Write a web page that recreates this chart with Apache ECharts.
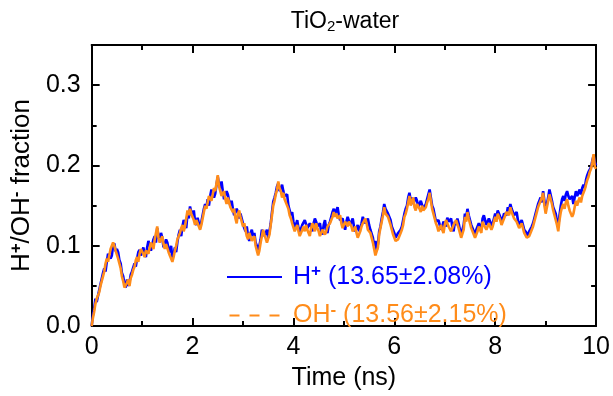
<!DOCTYPE html>
<html>
<head>
<meta charset="utf-8">
<script src="https://cdn.jsdelivr.net/npm/echarts@6/dist/echarts.min.js"></script>
<style>html,body{margin:0;padding:0;background:#fff}#c{width:613px;height:396px}</style>
</head>
<body>
<div id="c"></div>
<script>
// sampling step of the time series (ns)
const T_STEP = 0.025;

// H+ fraction, t = 0 .. 10 ns
const hPlus = [
  0.000,0.014,0.022,0.034,0.030,0.028,0.045,0.052,0.052,0.066,0.072,0.068,0.080,0.090,0.092,0.084,0.088,0.100,0.103,0.093,
  0.096,0.092,0.082,0.078,0.066,0.062,0.052,0.048,0.058,0.050,0.055,0.064,0.068,0.066,0.078,0.074,0.084,0.092,0.095,0.088,
  0.092,0.098,0.090,0.086,0.098,0.106,0.101,0.094,0.095,0.108,0.112,0.104,0.122,0.112,0.106,0.116,0.110,0.098,0.100,0.108,
  0.104,0.096,0.092,0.100,0.084,0.090,0.098,0.092,0.105,0.114,0.120,0.112,0.124,0.132,0.128,0.122,0.140,0.134,0.149,0.142,
  0.136,0.144,0.130,0.126,0.135,0.128,0.122,0.130,0.138,0.146,0.152,0.148,0.158,0.150,0.162,0.170,0.168,0.160,0.165,0.176,
  0.186,0.176,0.172,0.180,0.168,0.158,0.160,0.168,0.164,0.156,0.150,0.156,0.146,0.138,0.136,0.146,0.142,0.134,0.140,0.134,
  0.128,0.122,0.118,0.124,0.112,0.106,0.116,0.120,0.112,0.116,0.104,0.100,0.092,0.100,0.108,0.120,0.122,0.112,0.116,0.120,
  0.110,0.118,0.128,0.142,0.155,0.160,0.166,0.174,0.178,0.168,0.172,0.176,0.168,0.162,0.160,0.164,0.150,0.144,0.138,0.142,
  0.130,0.122,0.126,0.132,0.122,0.116,0.118,0.126,0.126,0.132,0.130,0.122,0.120,0.128,0.124,0.118,0.128,0.134,0.130,0.124,
  0.122,0.128,0.118,0.114,0.126,0.132,0.120,0.116,0.126,0.130,0.136,0.142,0.146,0.140,0.144,0.148,0.138,0.132,0.130,0.134,
  0.126,0.120,0.130,0.136,0.134,0.126,0.128,0.134,0.124,0.118,0.120,0.126,0.118,0.122,0.128,0.136,0.134,0.128,0.130,0.134,
  0.126,0.120,0.118,0.110,0.100,0.106,0.094,0.102,0.118,0.124,0.134,0.142,0.152,0.146,0.146,0.140,0.138,0.132,0.124,0.120,
  0.116,0.110,0.108,0.116,0.114,0.120,0.124,0.132,0.140,0.146,0.150,0.160,0.166,0.156,0.160,0.152,0.152,0.160,0.156,0.148,
  0.150,0.156,0.154,0.146,0.146,0.152,0.158,0.164,0.170,0.160,0.150,0.146,0.138,0.130,0.128,0.132,0.126,0.120,0.124,0.130,
  0.130,0.124,0.135,0.130,0.128,0.134,0.124,0.118,0.130,0.126,0.134,0.128,0.120,0.114,0.112,0.126,0.140,0.136,0.146,0.138,
  0.132,0.126,0.124,0.118,0.114,0.120,0.122,0.128,0.126,0.120,0.134,0.138,0.132,0.126,0.128,0.134,0.130,0.124,0.128,0.134,
  0.140,0.136,0.144,0.140,0.136,0.130,0.134,0.140,0.142,0.138,0.148,0.144,0.152,0.146,0.144,0.138,0.138,0.142,0.132,0.126,
  0.128,0.132,0.126,0.120,0.122,0.116,0.112,0.118,0.118,0.124,0.128,0.134,0.140,0.146,0.152,0.156,0.160,0.154,0.168,0.156,
  0.145,0.152,0.160,0.170,0.168,0.156,0.148,0.144,0.140,0.130,0.124,0.138,0.150,0.158,0.162,0.156,0.164,0.168,0.162,0.158,
  0.156,0.162,0.152,0.160,0.168,0.162,0.166,0.170,0.164,0.172,0.176,0.172,0.182,0.188,0.192,0.190,0.198,0.206,0.212,0.204,
  0.200
];

// OH- fraction, t = 0 .. 10 ns
const ohMinus = [
  0.000,0.010,0.018,0.028,0.034,0.038,0.042,0.050,0.056,0.062,0.068,0.078,0.084,0.080,0.088,0.096,0.094,0.104,0.100,0.094,
  0.092,0.084,0.078,0.072,0.062,0.056,0.048,0.046,0.054,0.058,0.050,0.060,0.064,0.070,0.074,0.082,0.086,0.080,0.090,0.096,
  0.096,0.090,0.086,0.094,0.094,0.090,0.098,0.104,0.100,0.096,0.108,0.116,0.124,0.110,0.104,0.108,0.112,0.102,0.096,0.102,
  0.100,0.092,0.088,0.084,0.080,0.086,0.094,0.100,0.108,0.110,0.116,0.122,0.126,0.118,0.124,0.134,0.144,0.138,0.146,0.140,
  0.138,0.132,0.126,0.132,0.130,0.124,0.120,0.126,0.134,0.142,0.150,0.146,0.154,0.162,0.160,0.156,0.164,0.172,0.168,0.178,
  0.188,0.174,0.168,0.162,0.164,0.168,0.158,0.152,0.160,0.154,0.148,0.150,0.142,0.146,0.134,0.128,0.140,0.144,0.136,0.130,
  0.124,0.128,0.120,0.112,0.108,0.116,0.114,0.106,0.108,0.112,0.100,0.094,0.088,0.094,0.104,0.112,0.120,0.114,0.112,0.104,
  0.106,0.114,0.126,0.138,0.150,0.156,0.164,0.170,0.180,0.172,0.168,0.160,0.166,0.158,0.156,0.150,0.146,0.138,0.134,0.128,
  0.128,0.118,0.122,0.126,0.118,0.112,0.114,0.120,0.124,0.118,0.126,0.120,0.116,0.112,0.122,0.128,0.124,0.118,0.128,0.122,
  0.118,0.112,0.114,0.120,0.122,0.114,0.118,0.124,0.122,0.128,0.132,0.136,0.142,0.136,0.140,0.134,0.134,0.138,0.128,0.122,
  0.122,0.130,0.128,0.124,0.130,0.132,0.124,0.118,0.120,0.124,0.116,0.110,0.112,0.118,0.124,0.128,0.130,0.134,0.128,0.120,
  0.122,0.116,0.114,0.104,0.096,0.088,0.090,0.098,0.114,0.122,0.130,0.138,0.148,0.140,0.142,0.136,0.134,0.126,0.120,0.114,
  0.112,0.106,0.104,0.108,0.110,0.116,0.120,0.126,0.136,0.140,0.146,0.154,0.162,0.150,0.156,0.160,0.148,0.144,0.152,0.154,
  0.146,0.142,0.150,0.144,0.142,0.148,0.154,0.158,0.166,0.156,0.146,0.140,0.134,0.128,0.124,0.118,0.122,0.126,0.120,0.116,
  0.126,0.132,0.130,0.124,0.124,0.118,0.120,0.126,0.126,0.132,0.130,0.122,0.116,0.110,0.108,0.120,0.136,0.130,0.142,0.134,
  0.128,0.122,0.120,0.114,0.110,0.112,0.118,0.124,0.122,0.116,0.130,0.126,0.128,0.120,0.124,0.128,0.126,0.120,0.124,0.130,
  0.136,0.130,0.140,0.136,0.132,0.126,0.130,0.134,0.138,0.142,0.144,0.138,0.148,0.142,0.140,0.134,0.134,0.130,0.128,0.122,
  0.124,0.128,0.122,0.116,0.118,0.110,0.108,0.112,0.114,0.120,0.124,0.130,0.136,0.142,0.148,0.150,0.156,0.160,0.166,0.150,
  0.140,0.148,0.156,0.164,0.166,0.152,0.144,0.138,0.136,0.126,0.118,0.132,0.142,0.148,0.152,0.146,0.154,0.158,0.150,0.144,
  0.144,0.136,0.140,0.148,0.156,0.150,0.156,0.160,0.154,0.162,0.166,0.170,0.176,0.182,0.186,0.192,0.196,0.204,0.214,0.198,
  0.196
];

const seriesNames = ['H+', 'OH-'];
const legendStats = ['13.65±2.08%', '13.56±2.15%'];
const xTickValues = [0, 2, 4, 6, 8, 10];
const yTickValues = [0.0, 0.1, 0.2, 0.3];
const Y_MAX = 0.35;

const FONT = 'Liberation Sans, Arial, sans-serif';
const FS = 25;
const BLUE = '#0000ff';
const ORANGE = '#ff8c1a';

const toPairs = arr => arr.map((v, i) => [+(i * T_STEP).toFixed(3), v]);

const tickLine = { color: '#000', width: 2 };
function xAx(pos, labels) {
  return {
    type: 'value', position: pos, min: xTickValues[0], max: xTickValues[xTickValues.length - 1],
    interval: xTickValues[1] - xTickValues[0],
    axisLine: { show: true, onZero: false, lineStyle: { color: '#000', width: 2 } },
    axisTick: { show: true, inside: true, length: 8, lineStyle: tickLine },
    minorTick: { show: true, splitNumber: 2, length: 5, lineStyle: tickLine },
    splitLine: { show: false }, minorSplitLine: { show: false },
    axisLabel: { show: labels, fontSize: FS, color: '#000', margin: 9, fontFamily: FONT },
    name: labels ? 'Time (ns)' : '', nameLocation: 'middle', nameGap: 36,
    nameTextStyle: { fontSize: FS, color: '#000', fontFamily: FONT, lineHeight: 26 }
  };
}
function yAx(pos, step, len, labels, line) {
  return {
    type: 'value', position: pos, min: yTickValues[0], max: Y_MAX, interval: step,
    axisLine: { show: line, onZero: false, lineStyle: { color: '#000', width: 2 } },
    axisTick: { show: true, inside: true, length: len, lineStyle: tickLine },
    splitLine: { show: false },
    axisLabel: { show: labels, showMaxLabel: false, fontSize: FS, color: '#000', margin: 11, fontFamily: FONT,
      formatter: v => v.toFixed(1) },
    name: labels ? '{a|H}{p|+}{a|/OH}{p|-}{a| fraction}' : '',
    nameLocation: 'middle', nameGap: 50, nameRotate: 90,
    nameTextStyle: { fontSize: 26, color: '#000', fontFamily: FONT,
      rich: {
        a: { fontSize: 26, color: '#000', fontFamily: FONT, lineHeight: 28 },
        p: { fontSize: 17, color: '#000', fontFamily: FONT, fontWeight: 'bold', padding: [0, 0, 11, 0] }
      } }
  };
}

const chart = echarts.init(document.getElementById('c'), null, { renderer: 'canvas' });
chart.setOption({
  animation: false,
  backgroundColor: '#fff',
  title: {
    text: '{a|TiO}{s|2}{a|-water}', left: 340, textAlign: 'center', top: 4,
    textStyle: { fontSize: 23, fontWeight: 'normal', color: '#000', fontFamily: FONT,
      rich: {
        a: { fontSize: 23, color: '#000', fontFamily: FONT },
        s: { fontSize: 15, color: '#000', fontFamily: FONT, padding: [10, 0, 0, 0] }
      } }
  },
  grid: { left: 90, right: 15, top: 45, bottom: 63, containLabel: false },
  xAxis: [xAx('bottom', true), xAx('top', false)],
  yAxis: [
    yAx('left', 0.1, 8, true, true),
    yAx('left', 0.05, 5, false, false),
    yAx('right', 0.1, 8, false, true),
    yAx('right', 0.05, 5, false, false)
  ],
  legend: {
    orient: 'vertical', left: 222, top: 258, itemWidth: 55, itemHeight: 2, itemGap: 12,
    data: [
      { name: seriesNames[0], icon: 'rect', itemStyle: { color: BLUE } },
      { name: seriesNames[1], icon: 'path://M0,0h10v2h-10z M20,0h10v2h-10z M40,0h10v2h-10z', itemStyle: { color: ORANGE } }
    ],
    formatter: name => name === seriesNames[0]
      ? '{ha|H}{hs|+}{ha| (' + legendStats[0] + ')}'
      : '{oa|OH}{os|-}{oa| (' + legendStats[1] + ')}',
    textStyle: {
      fontSize: FS, fontFamily: FONT, padding: [0, 0, 0, 6],
      rich: {
        ha: { fontSize: FS, color: BLUE, fontFamily: FONT, lineHeight: 28 },
        hs: { fontSize: 17, color: BLUE, fontFamily: FONT, fontWeight: 'bold', padding: [0, 0, 11, 0] },
        oa: { fontSize: FS, color: ORANGE, fontFamily: FONT, lineHeight: 28 },
        os: { fontSize: 17, color: ORANGE, fontFamily: FONT, fontWeight: 'bold', padding: [0, 0, 11, 0] }
      }
    }
  },
  series: [
    { name: seriesNames[0], type: 'line', xAxisIndex: 0, yAxisIndex: 0, data: toPairs(hPlus),
      symbol: 'none', showSymbol: false, lineStyle: { color: BLUE, width: 2.6 }, itemStyle: { color: BLUE }, z: 2 },
    { name: seriesNames[1], type: 'line', xAxisIndex: 0, yAxisIndex: 0, data: toPairs(ohMinus),
      symbol: 'none', showSymbol: false, lineStyle: { color: ORANGE, width: 2.6 }, itemStyle: { color: ORANGE }, z: 3 }
  ]
});
</script>
</body>
</html>
